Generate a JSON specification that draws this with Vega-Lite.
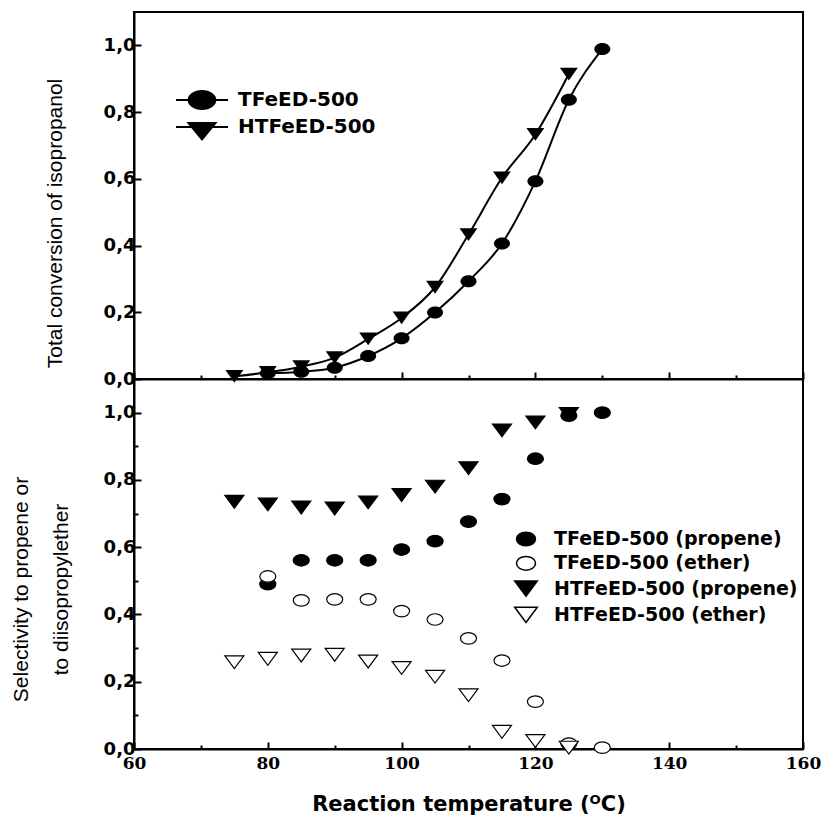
{
  "$schema": "https://vega.github.io/schema/vega-lite/v6.json",
  "background": "white",
  "padding": {"left": 9, "top": 11, "right": 18, "bottom": 0},
  "spacing": 0,
  "bounds": "flush",
  "datasets": {
    "conv": [
      {"temp": 80, "conv": 0.017, "sample": "TFeED-500"},
      {"temp": 85, "conv": 0.022, "sample": "TFeED-500"},
      {"temp": 90, "conv": 0.034, "sample": "TFeED-500"},
      {"temp": 95, "conv": 0.069, "sample": "TFeED-500"},
      {"temp": 100, "conv": 0.122, "sample": "TFeED-500"},
      {"temp": 105, "conv": 0.199, "sample": "TFeED-500"},
      {"temp": 110, "conv": 0.293, "sample": "TFeED-500"},
      {"temp": 115, "conv": 0.406, "sample": "TFeED-500"},
      {"temp": 120, "conv": 0.593, "sample": "TFeED-500"},
      {"temp": 125, "conv": 0.837, "sample": "TFeED-500"},
      {"temp": 130, "conv": 0.989, "sample": "TFeED-500"},
      {"temp": 75, "conv": 0.008, "sample": "HTFeED-500"},
      {"temp": 80, "conv": 0.02, "sample": "HTFeED-500"},
      {"temp": 85, "conv": 0.037, "sample": "HTFeED-500"},
      {"temp": 90, "conv": 0.064, "sample": "HTFeED-500"},
      {"temp": 95, "conv": 0.12, "sample": "HTFeED-500"},
      {"temp": 100, "conv": 0.183, "sample": "HTFeED-500"},
      {"temp": 105, "conv": 0.275, "sample": "HTFeED-500"},
      {"temp": 110, "conv": 0.433, "sample": "HTFeED-500"},
      {"temp": 115, "conv": 0.603, "sample": "HTFeED-500"},
      {"temp": 120, "conv": 0.733, "sample": "HTFeED-500"},
      {"temp": 125, "conv": 0.914, "sample": "HTFeED-500"}
    ],
    "sel": [
      {"temp": 75, "sel": 0.735, "series": "HTFeED-500 (propene)"},
      {"temp": 80, "sel": 0.727, "series": "HTFeED-500 (propene)"},
      {"temp": 85, "sel": 0.718, "series": "HTFeED-500 (propene)"},
      {"temp": 90, "sel": 0.715, "series": "HTFeED-500 (propene)"},
      {"temp": 95, "sel": 0.733, "series": "HTFeED-500 (propene)"},
      {"temp": 100, "sel": 0.755, "series": "HTFeED-500 (propene)"},
      {"temp": 105, "sel": 0.78, "series": "HTFeED-500 (propene)"},
      {"temp": 110, "sel": 0.835, "series": "HTFeED-500 (propene)"},
      {"temp": 115, "sel": 0.947, "series": "HTFeED-500 (propene)"},
      {"temp": 120, "sel": 0.971, "series": "HTFeED-500 (propene)"},
      {"temp": 125, "sel": 0.996, "series": "HTFeED-500 (propene)"},
      {"temp": 80, "sel": 0.49, "series": "TFeED-500 (propene)"},
      {"temp": 85, "sel": 0.561, "series": "TFeED-500 (propene)"},
      {"temp": 90, "sel": 0.561, "series": "TFeED-500 (propene)"},
      {"temp": 95, "sel": 0.561, "series": "TFeED-500 (propene)"},
      {"temp": 100, "sel": 0.593, "series": "TFeED-500 (propene)"},
      {"temp": 105, "sel": 0.618, "series": "TFeED-500 (propene)"},
      {"temp": 110, "sel": 0.676, "series": "TFeED-500 (propene)"},
      {"temp": 115, "sel": 0.743, "series": "TFeED-500 (propene)"},
      {"temp": 120, "sel": 0.863, "series": "TFeED-500 (propene)"},
      {"temp": 125, "sel": 0.991, "series": "TFeED-500 (propene)"},
      {"temp": 130, "sel": 1.0, "series": "TFeED-500 (propene)"},
      {"temp": 80, "sel": 0.513, "series": "TFeED-500 (ether)"},
      {"temp": 85, "sel": 0.442, "series": "TFeED-500 (ether)"},
      {"temp": 90, "sel": 0.445, "series": "TFeED-500 (ether)"},
      {"temp": 95, "sel": 0.445, "series": "TFeED-500 (ether)"},
      {"temp": 100, "sel": 0.41, "series": "TFeED-500 (ether)"},
      {"temp": 105, "sel": 0.385, "series": "TFeED-500 (ether)"},
      {"temp": 110, "sel": 0.329, "series": "TFeED-500 (ether)"},
      {"temp": 115, "sel": 0.263, "series": "TFeED-500 (ether)"},
      {"temp": 120, "sel": 0.141, "series": "TFeED-500 (ether)"},
      {"temp": 125, "sel": 0.016, "series": "TFeED-500 (ether)"},
      {"temp": 130, "sel": 0.004, "series": "TFeED-500 (ether)"},
      {"temp": 75, "sel": 0.258, "series": "HTFeED-500 (ether)"},
      {"temp": 80, "sel": 0.268, "series": "HTFeED-500 (ether)"},
      {"temp": 85, "sel": 0.278, "series": "HTFeED-500 (ether)"},
      {"temp": 90, "sel": 0.28, "series": "HTFeED-500 (ether)"},
      {"temp": 95, "sel": 0.26, "series": "HTFeED-500 (ether)"},
      {"temp": 100, "sel": 0.241, "series": "HTFeED-500 (ether)"},
      {"temp": 105, "sel": 0.215, "series": "HTFeED-500 (ether)"},
      {"temp": 110, "sel": 0.16, "series": "HTFeED-500 (ether)"},
      {"temp": 115, "sel": 0.051, "series": "HTFeED-500 (ether)"},
      {"temp": 120, "sel": 0.024, "series": "HTFeED-500 (ether)"},
      {"temp": 125, "sel": 0.004, "series": "HTFeED-500 (ether)"}
    ]
  },
  "vconcat": [
    {
      "width": 669,
      "height": 367,
      "data": {"name": "conv"},
      "layer": [
        {
          "mark": {"type": "line", "interpolate": "monotone", "color": "black", "strokeWidth": 2},
          "encoding": {
            "x": {"field": "temp", "type": "quantitative", "scale": {"domain": [60, 160], "nice": false, "zero": false},
              "axis": {"values": [60, 70, 80, 90, 100, 110, 120, 130, 140, 150, 160], "labels": false, "title": null,
                "tickSize": {"condition": {"test": "datum.value % 20 == 0", "value": -7}, "value": -4}}},
            "y": {"field": "conv", "type": "quantitative", "scale": {"domain": [0, 1.1], "nice": false, "zero": false},
              "axis": {"values": [0, 0.1, 0.2, 0.3, 0.4, 0.5, 0.6, 0.7, 0.8, 0.9, 1.0],
                "labelExpr": "round(datum.value*10) % 2 == 0 ? replace(format(datum.value, '.1f'), '.', ',') : ''",
                "tickSize": {"condition": {"test": "round(datum.value*10) % 2 == 0", "value": -7}, "value": -4},
                "labelPadding": 6,
                "labelFont": "DejaVu Sans", "labelFontWeight": "bold", "labelFontSize": 18,
                "title": "Total conversion of isopropanol",
                "titleFont": "Liberation Sans", "titleFontWeight": "normal", "titleFontSize": 21,
                "titleBaseline": "middle", "titleX": -79, "titleY": 211}},
            "detail": {"field": "sample"}
          }
        },
        {
          "mark": {"type": "point", "filled": true, "color": "black", "opacity": 1, "size": 256},
          "encoding": {
            "x": {"field": "temp", "type": "quantitative"},
            "y": {"field": "conv", "type": "quantitative"},
            "shape": {"field": "sample", "type": "nominal",
              "scale": {"domain": ["TFeED-500", "HTFeED-500"],
                "range": ["M-1,0A1,0.75 0 1,1 1,0A1,0.75 0 1,1 -1,0Z", "M-1.12,-0.8L1.12,-0.8L0,0.8Z"]},
              "legend": null}
          }
        },
        {
          "transform": [{"filter": "datum.temp < 0"}],
          "mark": {"type": "point", "filled": true, "color": "black", "opacity": 1},
          "encoding": {
            "x": {"field": "temp", "type": "quantitative"},
            "y": {"field": "conv", "type": "quantitative"},
            "shape": {"field": "sample", "type": "nominal",
              "scale": {"domain": ["TFeED-500", "HTFeED-500"],
                "range": ["M-2.08,-0.08H2.08V0.08H-2.08ZM-1.15,0A1.15,0.8 0 1,1 1.15,0A1.15,0.8 0 1,1 -1.15,0Z", "M-2.08,-0.08H2.08V0.08H-2.08ZM-1.25,-0.4L1.25,-0.4L0,1.12Z"]},
              "legend": {"orient": "none", "legendX": 54.5, "legendY": 74.5, "title": null, "padding": 0,
                "symbolSize": 625, "labelFont": "DejaVu Sans", "labelFontWeight": "bold", "labelFontSize": 20,
                "labelColor": "black", "labelOffset": 22.5, "rowPadding": -1, "labelLimit": 0}}
          }
        }
      ],
      "resolve": {"scale": {"shape": "independent"}, "legend": {"shape": "independent"}}
    },
    {
      "width": 669,
      "height": 370,
      "data": {"name": "sel"},
      "mark": {"type": "point", "filled": true, "stroke": "black", "strokeWidth": 1.2, "opacity": 1, "size": 256},
      "encoding": {
        "x": {"field": "temp", "type": "quantitative", "scale": {"domain": [60, 160], "nice": false, "zero": false},
          "axis": {"values": [60, 70, 80, 90, 100, 110, 120, 130, 140, 150, 160],
            "labelExpr": "datum.value % 20 == 0 ? datum.label : ''",
            "tickSize": {"condition": {"test": "datum.value % 20 == 0", "value": -7}, "value": -4},
            "labelPadding": 13,
            "labelFont": "DejaVu Serif", "labelFontWeight": "bold", "labelFontSize": 17,
            "title": "Reaction temperature (ᴼC)",
            "titleFont": "DejaVu Sans", "titleFontWeight": "bold", "titleFontSize": 21,
            "titleBaseline": "middle", "titleX": 334.5, "titleY": 55}},
        "y": {"field": "sel", "type": "quantitative", "scale": {"domain": [0, 1.1], "nice": false, "zero": false},
          "axis": {"values": [0, 0.1, 0.2, 0.3, 0.4, 0.5, 0.6, 0.7, 0.8, 0.9, 1.0],
            "labelExpr": "round(datum.value*10) % 2 == 0 ? replace(format(datum.value, '.1f'), '.', ',') : ''",
            "tickSize": {"condition": {"test": "round(datum.value*10) % 2 == 0", "value": -7}, "value": -4},
            "labelPadding": 6,
            "labelFont": "DejaVu Sans", "labelFontWeight": "bold", "labelFontSize": 18,
            "title": ["Selectivity to propene or", "to diisopropylether"],
            "titleFont": "Liberation Sans", "titleFontWeight": "normal", "titleFontSize": 21,
            "titleLineHeight": 40,
            "titleBaseline": "middle", "titleX": -113, "titleY": 210}},
        "shape": {"field": "series", "type": "nominal",
          "scale": {"domain": ["TFeED-500 (propene)", "TFeED-500 (ether)", "HTFeED-500 (propene)", "HTFeED-500 (ether)"],
            "range": ["M-1,0A1,0.72 0 1,1 1,0A1,0.72 0 1,1 -1,0Z", "M-1,0A1,0.72 0 1,1 1,0A1,0.72 0 1,1 -1,0Z", "M-1.19,-0.8L1.19,-0.8L0,0.8Z", "M-1.19,-0.8L1.19,-0.8L0,0.8Z"]},
          "legend": {"orient": "none", "legendX": 381.5, "legendY": 149.5, "title": null, "padding": 0,
            "symbolSize": 361, "labelFont": "DejaVu Sans", "labelFontWeight": "bold", "labelFontSize": 19,
            "labelColor": "black", "labelOffset": 17.5, "rowPadding": 3.3, "labelLimit": 0,
            "encode": {"symbols": {"stroke": {"value": "black"}, "strokeWidth": {"value": 1.2}, "opacity": {"value": 1}}}}},
        "fill": {"field": "series", "type": "nominal",
          "scale": {"domain": ["TFeED-500 (propene)", "TFeED-500 (ether)", "HTFeED-500 (propene)", "HTFeED-500 (ether)"],
            "range": ["black", "white", "black", "white"]},
          "legend": {"orient": "none", "legendX": 381.5, "legendY": 149.5, "title": null, "padding": 0,
            "symbolSize": 361, "labelFont": "DejaVu Sans", "labelFontWeight": "bold", "labelFontSize": 19,
            "labelColor": "black", "labelOffset": 17.5, "rowPadding": 3.3, "labelLimit": 0,
            "encode": {"symbols": {"stroke": {"value": "black"}, "strokeWidth": {"value": 1.2}, "opacity": {"value": 1}}}}}
      }
    }
  ],
  "resolve": {
    "scale": {"shape": "independent", "fill": "independent", "x": "independent", "y": "independent"},
    "legend": {"shape": "independent", "fill": "independent"}
  },
  "config": {
    "view": {"stroke": "black", "strokeWidth": 2},
    "concat": {"spacing": 0},
    "axis": {"domainColor": "black", "domainWidth": 2, "tickColor": "black", "tickWidth": 2, "grid": false,
      "labelColor": "black", "titleColor": "black", "labelFlush": false, "labelOverlap": false, "labelBound": false}
  }
}
